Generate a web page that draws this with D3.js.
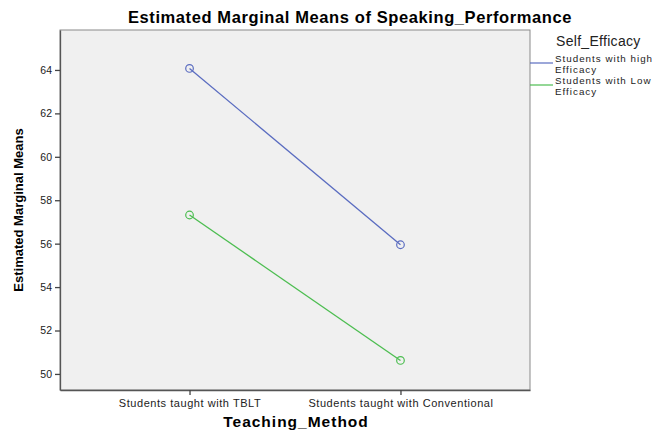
<!DOCTYPE html>
<html lang="en">
<head>
<meta charset="UTF-8" />
<title>Estimated Marginal Means</title>
<script src="https://d3js.org/d3.v7.min.js"></script>
<style>
  body { margin: 0; background: #fff; font-family: "Liberation Sans", Arial, sans-serif; }
  svg { display: block; }
</style>
</head>
<body>
<script>
const categories = ["Students taught with TBLT", "Students taught with Conventional"];
const highEfficacy = [64.07, 55.95];
const lowEfficacy = [57.32, 50.62];
const yTicks = [50, 52, 54, 56, 58, 60, 62, 64];
const seriesNames = [["Students with high", "Efficacy"], ["Students with Low", "Efficacy"]];
const seriesColors = ["#5a6cc0", "#4cbd50"];

const W = 659, H = 430;
const m = { left: 60, top: 30, right: 530, bottom: 390 };

const svg = d3.select("body").append("svg").attr("width", W).attr("height", H);

const x = d3.scalePoint().domain(categories).range([m.left, m.right]).padding(0.614);
const y = d3.scaleLinear().domain([49.26, 65.84]).range([m.bottom, m.top]);

svg.append("rect")
  .attr("x", m.left).attr("y", m.top)
  .attr("width", m.right - m.left).attr("height", m.bottom - m.top)
  .attr("fill", "#f0f0f0").attr("stroke", "#8a8a8a").attr("stroke-width", 1);

// axes
const yAxis = svg.append("g").attr("transform", `translate(${m.left},0)`)
  .call(d3.axisLeft(y).tickValues(yTicks).tickSize(5).tickPadding(3).tickSizeOuter(0));
const xAxis = svg.append("g").attr("transform", `translate(0,${m.bottom})`)
  .call(d3.axisBottom(x).tickSize(5).tickPadding(4).tickSizeOuter(0));
[yAxis, xAxis].forEach(a => {
  a.select(".domain").attr("stroke", "#555").attr("stroke-width", 1.3);
  a.selectAll(".tick line").attr("stroke", "#444").attr("stroke-width", 1.3);
  a.selectAll(".tick text").attr("fill", "#222").style("font-size", "10.5px")
    .style("font-family", "'Liberation Sans', Arial, sans-serif");
});
xAxis.selectAll(".tick text").style("font-size", "11px").style("letter-spacing", "0.55px");

// series
const series = [highEfficacy, lowEfficacy];
const line = d3.line().x((d, i) => x(categories[i])).y(d => y(d));
series.forEach((vals, s) => {
  svg.append("path").datum(vals).attr("d", line)
    .attr("fill", "none").attr("stroke", seriesColors[s]).attr("stroke-width", 1.3);
  svg.selectAll(null).data(vals).join("circle")
    .attr("cx", (d, i) => x(categories[i])).attr("cy", d => y(d)).attr("r", 3.8)
    .attr("fill", "none").attr("stroke", seriesColors[s]).attr("stroke-width", 1.2);
});

// title
svg.append("text").attr("x", 350).attr("y", 23).attr("text-anchor", "middle")
  .style("font-size", "16.5px").style("font-weight", "bold").style("letter-spacing", "0.6px")
  .text("Estimated Marginal Means of Speaking_Performance");

// axis titles
svg.append("text").attr("x", 296).attr("y", 427).attr("text-anchor", "middle")
  .style("font-size", "15.5px").style("font-weight", "bold").style("letter-spacing", "1px")
  .text("Teaching_Method");
svg.append("text").attr("transform", "translate(23,210) rotate(-90)").attr("text-anchor", "middle")
  .style("font-size", "13px").style("font-weight", "bold")
  .style("font-family", "'Liberation Sans Narrow', 'Arial Narrow', sans-serif")
  .text("Estimated Marginal Means");

// legend
svg.append("text").attr("x", 556).attr("y", 46).style("font-size", "14px").attr("fill", "#222")
  .style("letter-spacing", "0.3px").text("Self_Efficacy");
seriesNames.forEach((lines, s) => {
  const ly = 63 + s * 22;
  svg.append("line").attr("x1", m.right).attr("x2", 553).attr("y1", ly).attr("y2", ly)
    .attr("stroke", seriesColors[s]).attr("stroke-width", 1.2);
  lines.forEach((l, k) => {
    svg.append("text").attr("x", 555).attr("y", ly - 1 + k * 10.5)
      .style("font-size", "9.8px").style("letter-spacing", "1px").attr("fill", "#222")
      .text(l);
  });
});
</script>
</body>
</html>
